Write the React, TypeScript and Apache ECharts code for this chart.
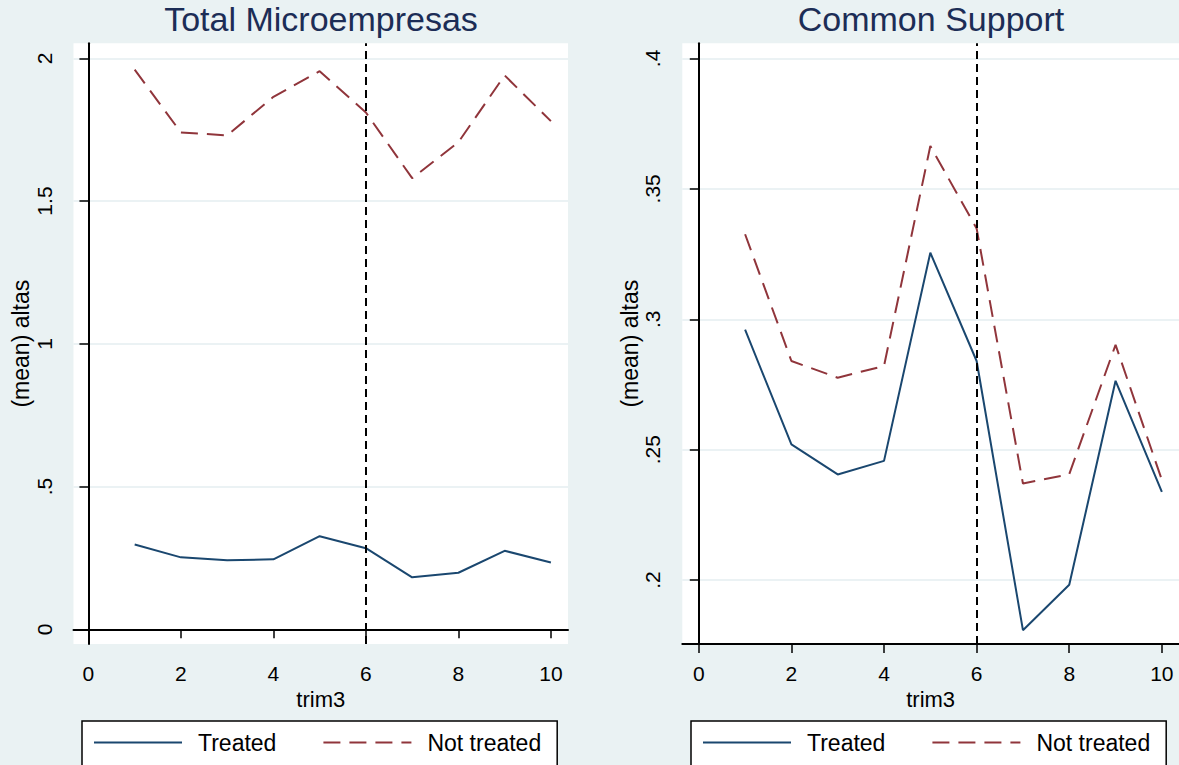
import React, { useEffect, useRef } from "react";
import * as echarts from "echarts";

const trims = [1, 2, 3, 4, 5, 6, 7, 8, 9, 10];
const totalTreated = [0.297, 0.252, 0.242, 0.245, 0.326, 0.284, 0.182, 0.198, 0.275, 0.234];
const totalNotTreated = [1.96, 1.74, 1.73, 1.865, 1.955, 1.81, 1.58, 1.706, 1.94, 1.78];
const csTreated = [0.296, 0.252, 0.2405, 0.2457, 0.3255, 0.284, 0.1808, 0.1982, 0.2764, 0.2338];
const csNotTreated = [0.3326, 0.284, 0.2776, 0.2821, 0.3664, 0.3348, 0.237, 0.2406, 0.2902, 0.2384];
const xTicks = [0, 2, 4, 6, 8, 10];
const leftYTicks = [0, 0.5, 1, 1.5, 2];
const rightYTicks = [0.2, 0.25, 0.3, 0.35, 0.4];
const treatmentStart = 6;
const panelTitles = ["Total Microempresas", "Common Support"];
const seriesNames = ["Treated", "Not treated"];

const FONT = "'Liberation Sans', Arial, sans-serif";
const BG = "#eaf2f3";
const NAVY = "#1a476f";
const MAROON = "#90353b";

const fmt = (v: number) => {
  const s = String(Math.round(v * 1000) / 1000);
  return s.replace(/^0\./, ".");
};

const pairs = (ys: number[]) => trims.map((x, i) => [x, ys[i]]);

export default function App() {
  const ref = useRef<HTMLDivElement>(null);
  useEffect(() => {
    document.body.style.margin = "0";
    const chart = echarts.init(ref.current!, null, { renderer: "svg" });
    const grids = [
      { left: 73.5, top: 43.3, width: 494.5, height: 600.7 },
      { left: 682.3, top: 43.3, width: 497, height: 600.7 },
    ];
    const xAxisBase = (gi: number, min: number) => ({
      type: "value",
      gridIndex: gi,
      min,
      max: 10.37,
      name: "trim3",
      nameLocation: "middle",
      nameGap: 40,
      nameTextStyle: { fontFamily: FONT, fontSize: 22, color: "#000" },
      axisLine: { show: true, lineStyle: { color: "#000", width: 2 } },
      axisTick: { show: true, length: 9, customValues: xTicks, lineStyle: { color: "#000", width: 1.5 } },
      axisLabel: { customValues: xTicks, margin: 19, fontFamily: FONT, fontSize: 21, color: "#000" },
      splitLine: { show: false },
    });
    const yAxisBase = (gi: number, min: number, max: number, ticks: number[]) => ({
      type: "value",
      gridIndex: gi,
      min,
      max,
      name: "(mean) altas",
      nameLocation: "middle",
      nameRotate: 90,
      nameGap: 40,
      nameTextStyle: { fontFamily: FONT, fontSize: 23, color: "#000" },
      axisLine: { show: true, lineStyle: { color: "#000", width: 2 } },
      axisTick: { show: true, length: 9, customValues: ticks, lineStyle: { color: "#000", width: 1.5 } },
      axisLabel: {
        customValues: ticks,
        rotate: 90,
        margin: 19,
        fontFamily: FONT,
        fontSize: 21,
        color: "#000",
        formatter: (v: number) => fmt(v),
      },
      splitLine: { show: true, lineStyle: { color: "#e4eef0", width: 1.5 } },
    });
    const vline = {
      silent: true,
      symbol: ["none", "none"],
      label: { show: false },
      lineStyle: { color: "#000", type: [8, 5], width: 2 },
      data: [{ xAxis: treatmentStart }],
    };
    const lineSeries = (name: string, gi: number, ys: number[], dashed: boolean, withV: boolean) => ({
      type: "line",
      name,
      xAxisIndex: gi,
      yAxisIndex: gi,
      data: pairs(ys),
      symbol: "none",
      showSymbol: false,
      lineStyle: { color: dashed ? MAROON : NAVY, width: 2, type: dashed ? [17, 9] : "solid" },
      itemStyle: { color: dashed ? MAROON : NAVY },
      markLine: withV ? vline : undefined,
      z: dashed ? 3 : 2,
    });
    const legendBase = (left: number) => ({
      left,
      top: 721,
      orient: "horizontal",
      data: seriesNames,
      backgroundColor: "#fff",
      borderColor: "#000",
      borderWidth: 1.5,
      borderRadius: 0,
      padding: [10, 16, 14, 11],
      itemWidth: 88,
      itemHeight: 23,
      itemGap: 46,
      selectedMode: false,
      itemStyle: { color: "rgba(0,0,0,0)", opacity: 0, borderWidth: 0 },
      textStyle: { fontFamily: FONT, fontSize: 23, color: "#000", padding: [0, 0, 0, 11] },
    });
    chart.setOption({
      animation: false,
      backgroundColor: BG,
      title: [
        {
          text: panelTitles[0],
          left: 321,
          top: 2,
          textAlign: "center",
          padding: 0,
          textStyle: { fontFamily: FONT, fontSize: 34, fontWeight: "normal", color: "#1c2d56" },
        },
        {
          text: panelTitles[1],
          left: 931,
          top: 2,
          textAlign: "center",
          padding: 0,
          textStyle: { fontFamily: FONT, fontSize: 34, fontWeight: "normal", color: "#1c2d56" },
        },
      ],
      legend: [legendBase(82), legendBase(691)],
      grid: grids.map((g) => ({ ...g, show: true, backgroundColor: "#fff", borderWidth: 0 })),
      xAxis: [xAxisBase(0, -0.323), xAxisBase(1, -0.356)],
      yAxis: [yAxisBase(0, -0.0515, 2.0525, leftYTicks), yAxisBase(1, 0.1755, 0.4058, rightYTicks)],
      series: [
        lineSeries(seriesNames[0], 0, totalTreated, false, true),
        lineSeries(seriesNames[1], 0, totalNotTreated, true, false),
        lineSeries(seriesNames[0], 1, csTreated, false, true),
        lineSeries(seriesNames[1], 1, csNotTreated, true, false),
      ],
    });
    return () => chart.dispose();
  }, []);
  return (
    <div
      ref={ref}
      style={{ position: "fixed", left: 0, top: 0, width: 1179, height: 765 }}
    />
  );
}
